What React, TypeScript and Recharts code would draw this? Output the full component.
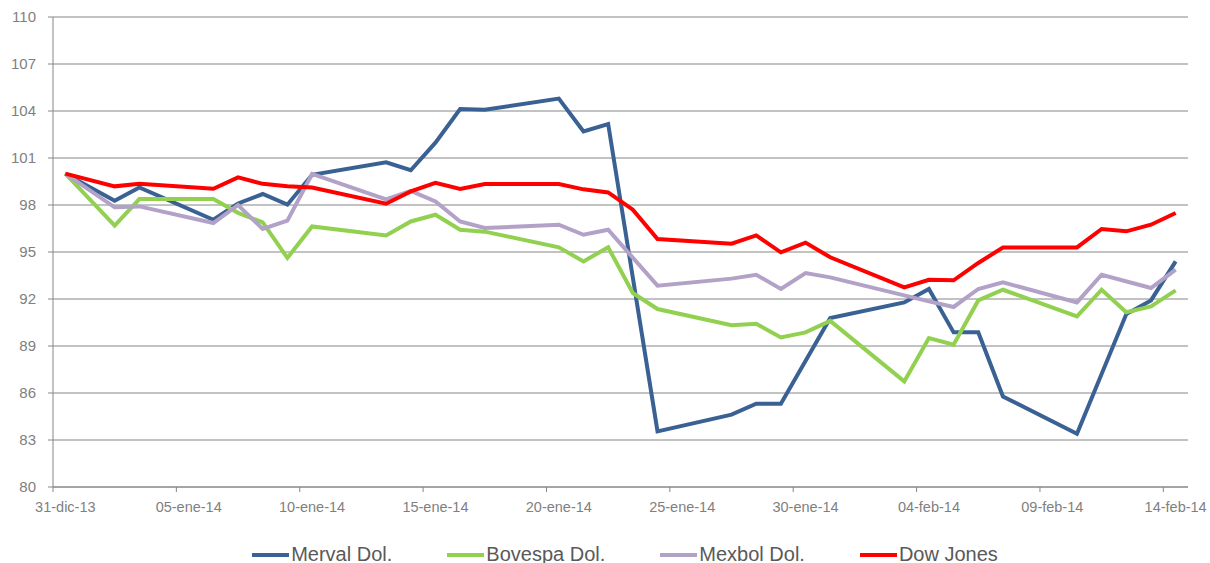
import React from 'react';
import { LineChart, Line, XAxis, YAxis, CartesianGrid } from 'recharts';

// day offsets from 31-dic-13 (trading days only)
const days = [0, 2, 3, 6, 7, 8, 9, 10, 13, 14, 15, 16, 17, 20, 21, 22, 23, 24, 27, 28, 29, 30, 31, 34, 35, 36, 37, 38, 41, 42, 43, 44, 45];

const merval = [100, 98.27, 99.12, 97.06, 98.1, 98.7, 98.02, 99.93, 100.72, 100.22, 101.98, 104.13, 104.08, 104.79, 102.7, 103.17, null, 83.55, 84.62, 85.32, 85.32, null, 90.79, 91.78, 92.64, 89.87, 89.87, 85.78, 83.4, null, 91.04, 91.91, 94.4];
const bovespa = [100, 96.68, 98.38, 98.38, 97.5, 96.89, 94.62, 96.63, 96.06, 96.95, 97.38, 96.42, 96.3, 95.3, 94.4, 95.3, 92.38, 91.36, 90.32, 90.42, 89.55, 89.87, 90.6, 86.74, 89.51, 89.08, 91.91, 92.59, 90.89, 92.59, 91.15, 91.53, 92.55];
const mexbol = [100, 97.85, 97.91, 96.85, 98.0, 96.47, 97.0, 99.98, 98.36, 98.9, 98.23, 96.95, 96.53, 96.74, 96.1, 96.42, null, 92.85, 93.3, 93.55, 92.64, 93.66, 93.38, null, 91.85, 91.49, 92.64, 93.06, 91.78, 93.55, null, 92.7, 93.87];
const dowJones = [100, 99.19, 99.36, 99.04, 99.76, 99.35, 99.2, 99.12, 98.08, 98.87, 99.42, 99.02, 99.34, 99.34, 99.0, 98.8, 97.7, 95.83, 95.53, 96.06, 94.98, 95.6, 94.66, 92.74, 93.23, 93.19, 94.3, 95.29, 95.29, 96.47, 96.32, 96.74, 97.49];

const tickDays = [0, 5, 10, 15, 20, 25, 30, 35, 40, 45];
const tickLabels = ['31-dic-13', '05-ene-14', '10-ene-14', '15-ene-14', '20-ene-14', '25-ene-14', '30-ene-14', '04-feb-14', '09-feb-14', '14-feb-14'];
const yTicks = [80, 83, 86, 89, 92, 95, 98, 101, 104, 107, 110];

const series = [
  { key: 'merval', name: 'Merval Dol.', color: '#3A6194', values: merval },
  { key: 'bovespa', name: 'Bovespa Dol.', color: '#92D050', values: bovespa },
  { key: 'mexbol', name: 'Mexbol Dol.', color: '#B3A2C7', values: mexbol },
  { key: 'dow', name: 'Dow Jones', color: '#FF0000', values: dowJones },
];

const data = days.map((d, i) => {
  const row: { [k: string]: number | null } = { day: d };
  series.forEach((s) => {
    row[s.key] = s.values[i];
  });
  return row;
});

const FONT = '"Liberation Sans Narrow", "Liberation Sans", Arial, sans-serif';
const AXIS_GRAY = '#868686';
const HALF_DAY = 1135 / 46 / 2;

const XTick = (props: any) => {
  const { x, y, payload } = props;
  const idx = tickDays.indexOf(payload.value);
  return (
    <g>
      <line x1={x - HALF_DAY} x2={x - HALF_DAY} y1={y - 5} y2={y} stroke={AXIS_GRAY} strokeWidth={1} />
      <text x={x} y={y + 20} textAnchor="middle" fill="#7f7f7f" fontSize={14.5} fontFamily={FONT}>
        {idx >= 0 ? tickLabels[idx] : ''}
      </text>
    </g>
  );
};

export default function App() {
  return (
    <div style={{ position: 'absolute', left: 0, top: 0, width: 1210, height: 563, background: '#fff' }}>
      <LineChart width={1210} height={563} data={data} margin={{ top: 17, right: 22, bottom: 0, left: 0 }}>
        <CartesianGrid vertical={false} stroke={AXIS_GRAY} strokeWidth={1} />
        <XAxis
          dataKey="day"
          type="number"
          domain={[-0.5, 45.5]}
          ticks={tickDays}
          interval={0}
          height={76}
          tickSize={5}
          tickMargin={0}
          tickLine={false}
          stroke={AXIS_GRAY}
          tick={<XTick />}
        />
        <YAxis
          domain={[80, 110]}
          ticks={yTicks}
          interval={0}
          width={53}
          tickSize={5}
          tickMargin={12}
          stroke={AXIS_GRAY}
          tick={{ fill: '#7f7f7f', fontSize: 15, fontFamily: FONT }}
        />
        {series.map((s) => (
          <Line
            key={s.key}
            type="linear"
            dataKey={s.key}
            name={s.name}
            stroke={s.color}
            strokeWidth={4}
            dot={false}
            activeDot={false}
            connectNulls
            isAnimationActive={false}
          />
        ))}
      </LineChart>
      <div
        style={{
          position: 'absolute',
          left: 40,
          top: 543,
          width: 1170,
          display: 'flex',
          justifyContent: 'center',
          gap: 55,
          fontFamily: FONT,
          fontSize: 20,
          color: '#595959',
        }}
      >
        {series.map((s) => (
          <div key={s.key} style={{ display: 'flex', alignItems: 'center' }}>
            <div style={{ width: 37, height: 4, background: s.color, marginRight: 2 }} />
            <span>{s.name}</span>
          </div>
        ))}
      </div>
    </div>
  );
}
